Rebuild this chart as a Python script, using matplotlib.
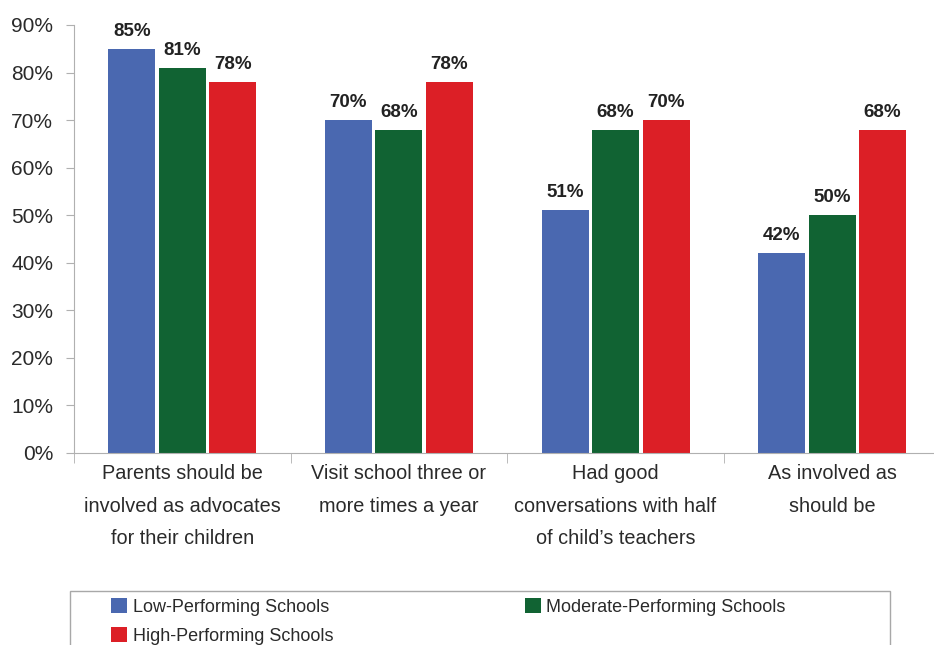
import numpy as np
import matplotlib.pyplot as plt
from matplotlib.patches import Rectangle

plt.rcParams['font.family'] = ['Liberation Sans', 'DejaVu Sans']

categories = ['Parents should be\ninvolved as advocates\nfor their children',
              'Visit school three or\nmore times a year',
              'Had good\nconversations with half\nof child\u2019s teachers',
              'As involved as\nshould be']
low = [85, 70, 51, 42]
moderate = [81, 68, 68, 50]
high = [78, 78, 70, 68]
series_names = ['Low-Performing Schools', 'Moderate-Performing Schools', 'High-Performing Schools']
colors = ['#4a68b0', '#116333', '#dc1f26']

fig = plt.figure(figsize=(9.34, 6.45), dpi=100)
ax = fig.add_axes([74/934, 1-453/645, 860/934, 428/645])

x = np.arange(len(categories))
w = 0.217
step = 0.233
bars = []
for i, (vals, name, c) in enumerate(zip([low, moderate, high], series_names, colors)):
    b = ax.bar(x + (i - 1) * step, vals, w, color=c, label=name)
    bars.append(b)
    for xi, v in zip(x + (i - 1) * step, vals):
        ax.text(xi, v + 1.9, '%d%%' % v, ha='center', va='bottom',
                fontsize=13.5, fontweight='bold', color='#222222')

ax.set_xlim(-0.5, 3.47)
ax.set_ylim(0, 90)
ax.set_yticks(range(0, 91, 10))
ax.set_yticklabels(['%d%%' % t for t in range(0, 91, 10)])
ax.set_xticks(x)
ax.set_xticklabels(categories, linespacing=1.9)
ax.set_xticks([-0.5, 0.5, 1.5, 2.5], minor=True)

for s in ['top', 'right']:
    ax.spines[s].set_visible(False)
for s in ['left', 'bottom']:
    ax.spines[s].set_color('#b0b0b0')
ax.tick_params(axis='y', labelsize=15, colors='#b0b0b0', labelcolor='#2a2a2a',
               length=6, pad=9, direction='out')
ax.tick_params(axis='x', which='major', length=0, labelsize=14.3, labelcolor='#2a2a2a', pad=8)
ax.tick_params(axis='x', which='minor', length=7, color='#b0b0b0', direction='out')

# legend frame, runs off the bottom edge
fig.patches.append(Rectangle((70/934, 1-660/645), 820/934, 69/645, transform=fig.transFigure,
                             fill=False, edgecolor='#a8a8a8', linewidth=1.0))

handles = [bars[0], bars[2], bars[1]]
labels = [series_names[0], series_names[2], series_names[1]]
leg = fig.legend(handles, labels, loc='upper left', ncol=2,
                 bbox_to_anchor=(111/934, 1-598/645),
                 fontsize=13, frameon=False,
                 handlelength=0.9, handleheight=0.9, handletextpad=0.3,
                 borderaxespad=0, borderpad=0, labelspacing=0.62,
                 columnspacing=10.6)
for t in leg.get_texts():
    t.set_color('#2a2a2a')

fig.savefig('out.png', dpi=100)
